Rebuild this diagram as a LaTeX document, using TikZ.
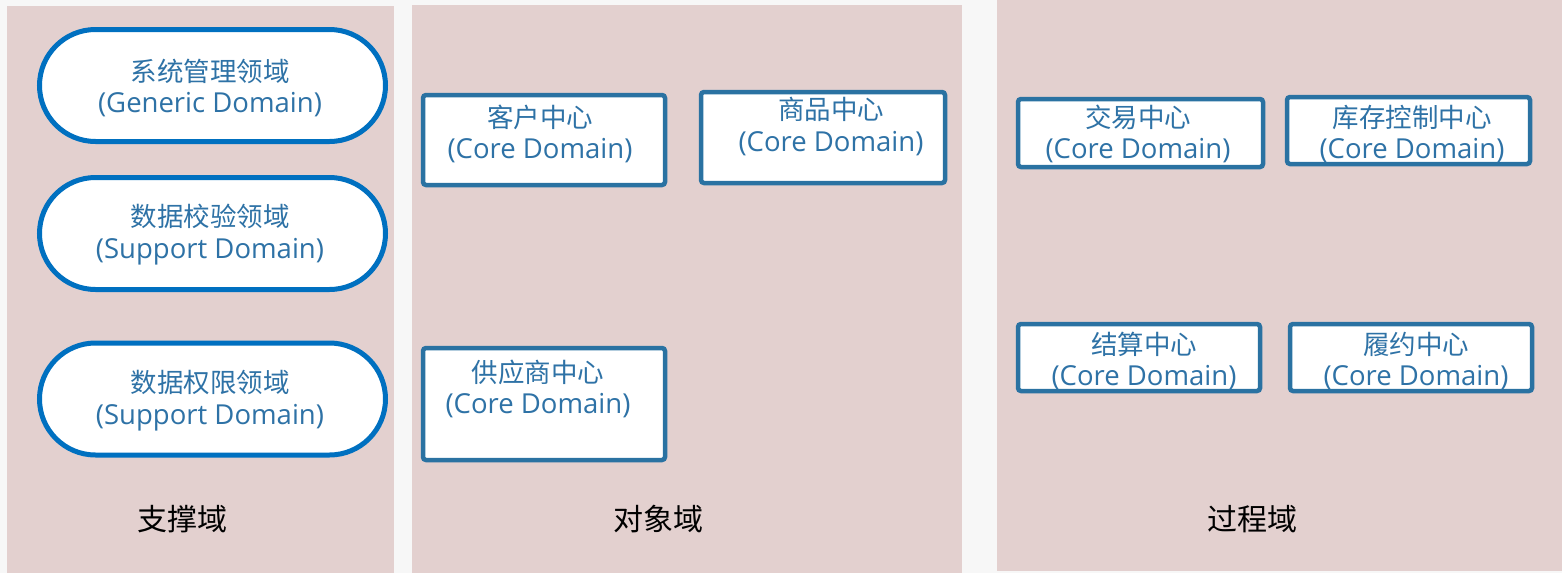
\documentclass[tikz,border=0pt]{standalone}
\usepackage{fontspec}
\setmainfont{Noto Sans CJK SC}
\newfontfamily\cjkfont{Noto Sans CJK SC}
\newfontfamily\latfont{Open Sans}
\newcommand{\latline}[1]{{\latfont\fontsize{27.5pt}{31.5pt}\selectfont #1}}
\definecolor{pagebg}{HTML}{F7F7F7}
\definecolor{panelbg}{HTML}{E3D0CF}
\definecolor{stadiumline}{HTML}{0070C0}
\definecolor{boxline}{HTML}{2A72A2}
\definecolor{boxtext}{HTML}{2E72A6}
\tikzset{
  panel/.style={fill=panelbg, draw=none},
  stadium/.style={draw=stadiumline, line width=5pt, fill=white, rounded corners=56pt,
    minimum width=346pt, minimum height=112pt, inner sep=0pt},
  corebox/.style={draw=boxline, line width=4.5pt, fill=white, rounded corners=3pt, inner sep=0pt},
  intext/.style={text=boxtext, align=center, font=\cjkfont\fontsize{26.5pt}{31.5pt}\selectfont, inner sep=0pt},
  paneltitle/.style={text=black, font=\cjkfont\fontsize{30pt}{34pt}\selectfont, inner sep=0pt}
}
\begin{document}
\begin{tikzpicture}[x=1pt,y=-1pt]
\useasboundingbox (0,0) rectangle (1562,573);
\fill[pagebg] (0,0) rectangle (1562,573);
% panels
\fill[panel] (7,6) rectangle (394,573);
\fill[panel] (412,5) rectangle (962,573);
\fill[panel] (997,0) rectangle (1562,571);
% support domain
\node[stadium] (sys) at (212.5,85.5) {};
\node[intext] (systxt) at (210,88) {系统管理领域\\\latline{(Generic Domain)}};
\node[stadium] (chk) at (212.5,233.5) {};
\node[intext] (chktxt) at (210,234.5) {数据校验领域\\\latline{(Support Domain)}};
\node[stadium] (perm) at (212.5,399) {};
\node[intext] (permtxt) at (210,400.5) {数据权限领域\\\latline{(Support Domain)}};
\node[paneltitle] (t1) at (182,519) {支撑域};
% object domain
\node[corebox, minimum width=242pt, minimum height=90pt] (kh) at (544,140) {};
\node[intext] (khtxt) at (540,134) {客户中心\\\latline{(Core Domain)}};
\node[corebox, minimum width=244pt, minimum height=91pt] (sp) at (823,137.5) {};
\node[intext] (sptxt) at (831,126.5) {商品中心\\\latline{(Core Domain)}};
\node[corebox, minimum width=242pt, minimum height=112pt] (gys) at (544,404) {};
\node[intext] (gystxt) at (538,389) {供应商中心\\\latline{(Core Domain)}};
\node[paneltitle] (t2) at (658,519) {对象域};
% process domain
\node[corebox, minimum width=245pt, minimum height=68pt] (jy) at (1140.5,133) {};
\node[intext] (jytxt) at (1138,134) {交易中心\\\latline{(Core Domain)}};
\node[corebox, minimum width=243pt, minimum height=67pt] (kc) at (1408.5,130.5) {};
\node[intext] (kctxt) at (1412,134) {库存控制中心\\\latline{(Core Domain)}};
\node[corebox, minimum width=242pt, minimum height=67pt] (js) at (1139,357.5) {};
\node[intext] (jstxt) at (1144,361) {结算中心\\\latline{(Core Domain)}};
\node[corebox, minimum width=242pt, minimum height=67pt] (ly) at (1411,357.5) {};
\node[intext] (lytxt) at (1416,361) {履约中心\\\latline{(Core Domain)}};
\node[paneltitle] (t3) at (1252,519) {过程域};
\end{tikzpicture}
\end{document}
